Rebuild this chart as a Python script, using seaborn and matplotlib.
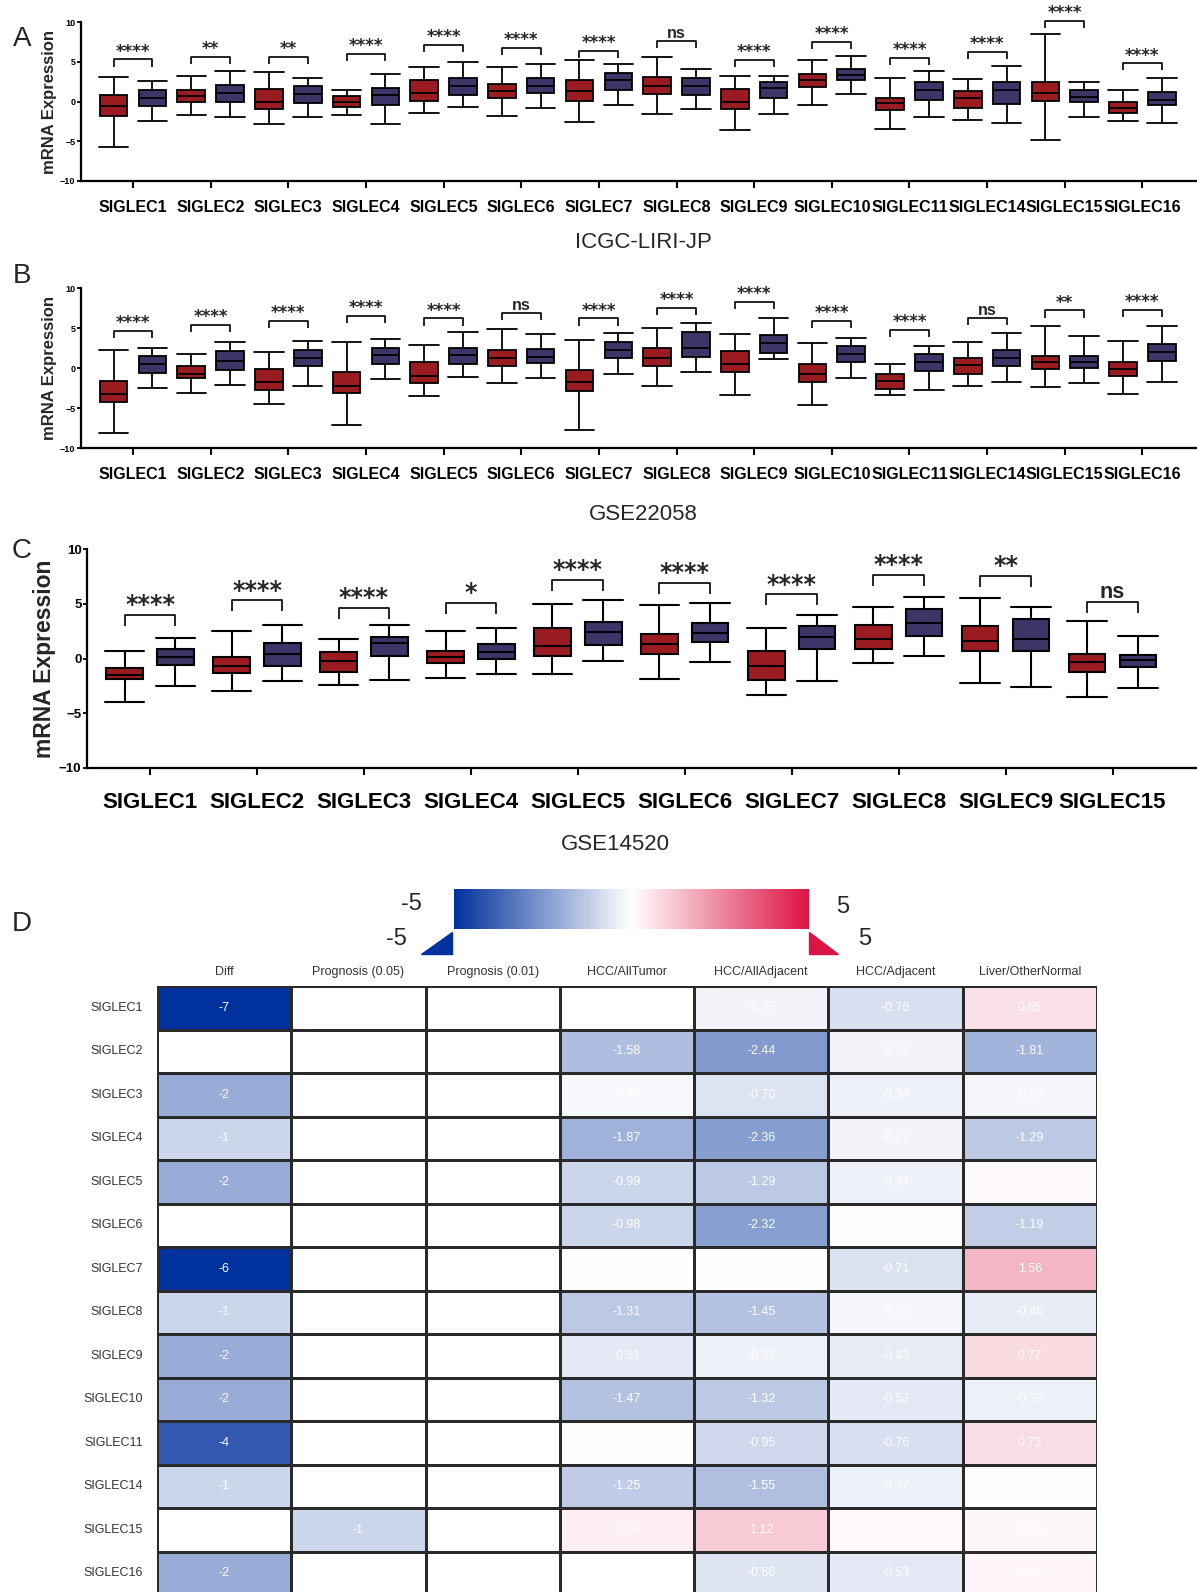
import numpy as np
import pandas as pd
import matplotlib
matplotlib.use("Agg")
import matplotlib.pyplot as plt
import seaborn as sns
from matplotlib import font_manager
from matplotlib.colors import LinearSegmentedColormap
from matplotlib.patches import Polygon

# ---------------- data ----------------
genes_ab = ["SIGLEC1", "SIGLEC2", "SIGLEC3", "SIGLEC4", "SIGLEC5", "SIGLEC6", "SIGLEC7",
            "SIGLEC8", "SIGLEC9", "SIGLEC10", "SIGLEC11", "SIGLEC14", "SIGLEC15", "SIGLEC16"]
genes_c = ["SIGLEC1", "SIGLEC2", "SIGLEC3", "SIGLEC4", "SIGLEC5", "SIGLEC6", "SIGLEC7",
           "SIGLEC8", "SIGLEC9", "SIGLEC15"]
groups = ["Tumor", "Normal"]

# Panel A - ICGC-LIRI-JP (min, Q1, median, Q3, max)
a_tumor_min = [-5.7, -1.7, -2.8, -1.7, -1.5, -1.8, -2.6, -1.6, -3.6, -0.5, -3.4, -2.3, -4.9, -2.5]
a_tumor_q1 = [-1.8, 0.0, -1.0, -0.7, 0.1, 0.4, 0.1, 0.9, -1.0, 1.8, -1.1, -0.8, 0.1, -1.4]
a_tumor_med = [-0.6, 0.7, -0.1, 0.0, 1.1, 1.3, 1.3, 1.9, -0.1, 2.7, -0.2, 0.5, 1.1, -0.8]
a_tumor_q3 = [0.85, 1.5, 1.6, 0.7, 2.7, 2.2, 2.7, 3.1, 1.6, 3.5, 0.5, 1.3, 2.5, 0.0]
a_tumor_max = [3.1, 3.2, 3.7, 1.5, 4.4, 4.3, 5.2, 5.6, 3.2, 5.2, 2.9, 2.8, 8.5, 1.5]
a_normal_min = [-2.5, -1.9, -2.0, -2.8, -0.7, -0.8, -0.4, -1.0, -1.6, 0.9, -2.0, -2.7, -1.9, -2.7]
a_normal_q1 = [-0.6, 0.0, -0.2, -0.4, 0.85, 1.1, 1.5, 0.85, 0.5, 2.7, 0.25, -0.3, 0.0, -0.4]
a_normal_med = [0.5, 1.1, 0.9, 0.8, 1.9, 1.9, 2.7, 1.9, 1.7, 3.3, 1.4, 1.5, 0.6, 0.25]
a_normal_q3 = [1.5, 2.1, 1.9, 1.7, 3.0, 2.9, 3.6, 3.0, 2.5, 4.1, 2.4, 2.5, 1.4, 1.2]
a_normal_max = [2.6, 3.8, 3.0, 3.5, 5.0, 4.7, 4.7, 4.1, 3.2, 5.7, 3.8, 4.5, 2.5, 3.0]
a_bracket = [5.3, 5.6, 5.6, 6.0, 7.1, 6.7, 6.4, 7.6, 5.2, 7.5, 5.5, 6.2, 10.1, 4.8]
a_sig = ["****", "**", "**", "****", "****", "****", "****", "ns", "****", "****",
         "****", "****", "****", "****"]

# Panel B - GSE22058
b_tumor_min = [-8.1, -3.1, -4.5, -7.1, -3.5, -1.9, -7.8, -2.25, -3.4, -4.6, -3.4, -2.3, -2.4, -3.2]
b_tumor_q1 = [-4.2, -1.3, -2.7, -3.1, -1.9, 0.3, -2.9, 0.3, -0.5, -1.8, -2.6, -0.8, -0.1, -1.0]
b_tumor_med = [-3.2, -0.7, -1.8, -2.2, -1.0, 1.3, -1.7, 1.2, 0.5, -0.8, -1.6, 0.4, 0.75, -0.1]
b_tumor_q3 = [-1.6, 0.2, -0.1, -0.5, 0.7, 2.3, -0.3, 2.5, 2.1, 0.5, -0.75, 1.25, 1.5, 0.75]
b_tumor_max = [2.2, 1.8, 2.0, 3.3, 2.9, 4.9, 3.5, 5.0, 4.2, 3.1, 0.5, 3.2, 5.2, 3.4]
b_normal_min = [-2.5, -2.1, -2.25, -1.4, -1.1, -1.3, -0.7, -0.5, 1.1, -1.2, -2.7, -1.7, -1.9, -1.75]
b_normal_q1 = [-0.6, -0.25, 0.2, 0.5, 0.5, 0.6, 1.2, 1.4, 1.9, 0.7, -0.4, 0.2, 0.0, 0.9]
b_normal_med = [0.5, 0.9, 1.3, 1.6, 1.6, 1.4, 2.3, 2.5, 3.1, 1.8, 0.7, 1.3, 0.7, 2.0]
b_normal_q3 = [1.5, 2.1, 2.3, 2.5, 2.5, 2.4, 3.3, 4.5, 4.1, 2.75, 1.7, 2.25, 1.5, 3.0]
b_normal_max = [2.5, 3.2, 3.4, 3.6, 4.5, 4.2, 4.4, 5.6, 6.2, 3.8, 2.75, 4.4, 4.0, 5.3]
b_bracket = [4.6, 5.4, 5.9, 6.5, 6.2, 6.9, 6.2, 7.5, 8.3, 5.9, 4.8, 6.3, 7.2, 7.3]
b_sig = ["****", "****", "****", "****", "****", "ns", "****", "****", "****", "****",
         "****", "ns", "**", "****"]

# Panel C - GSE14520
c_tumor_min = [-4.0, -3.0, -2.4, -1.8, -1.4, -1.85, -3.35, -0.4, -2.2, -3.5]
c_tumor_q1 = [-1.9, -1.3, -1.2, -0.45, 0.2, 0.4, -1.95, 0.85, 0.65, -1.2]
c_tumor_med = [-1.5, -0.7, -0.25, 0.15, 1.1, 1.35, -0.7, 1.8, 1.6, -0.3]
c_tumor_q3 = [-0.9, 0.15, 0.6, 0.65, 2.8, 2.25, 0.65, 3.1, 3.0, 0.4]
c_tumor_max = [0.7, 2.5, 1.8, 2.5, 5.0, 4.9, 2.75, 4.7, 5.55, 3.4]
c_normal_min = [-2.5, -2.1, -1.95, -1.4, -0.25, -0.35, -2.05, 0.2, -2.6, -2.7]
c_normal_q1 = [-0.6, -0.65, 0.2, 0.0, 1.25, 1.5, 0.85, 2.1, 0.7, -0.8]
c_normal_med = [0.1, 0.45, 1.4, 0.6, 2.4, 2.3, 1.95, 3.2, 1.8, -0.1]
c_normal_q3 = [0.85, 1.4, 1.95, 1.3, 3.3, 3.25, 3.0, 4.5, 3.6, 0.35]
c_normal_max = [1.9, 3.1, 3.05, 2.8, 5.3, 5.1, 4.0, 5.6, 4.7, 2.1]
c_bracket = [4.0, 5.3, 4.6, 5.1, 7.2, 6.9, 5.85, 7.65, 7.55, 5.2]
c_sig = ["****", "****", "****", "*", "****", "****", "****", "****", "**", "ns"]

# Panel D - heatmap
hm_rows = genes_ab
hm_cols = ["Diff", "Prognosis (0.05)", "Prognosis (0.01)", "HCC/AllTumor",
           "HCC/AllAdjacent", "HCC/Adjacent", "Liver/OtherNormal"]
nan = np.nan
hm_diff = [-7, nan, -2, -1, -2, nan, -6, -1, -2, -2, -4, -1, nan, -2]
hm_prog05 = [nan, nan, nan, nan, nan, nan, nan, nan, nan, nan, nan, nan, -1, nan]
hm_prog01 = [nan] * 14
hm_alltumor = [nan, -1.58, -0.16, -1.87, -0.99, -0.98, -0.02, -1.31, -0.51, -1.47, 0.07, -1.25, 0.34, nan]
hm_alladj = [-0.25, -2.44, -0.70, -2.36, -1.29, -2.32, 0.03, -1.45, -0.33, -1.32, -0.95, -1.55, 1.12, -0.66]
hm_adj = [-0.76, -0.24, -0.34, -0.27, -0.34, 0.07, -0.71, -0.20, -0.43, -0.53, -0.76, -0.37, 0.12, -0.53]
hm_liver = [0.65, -1.81, -0.23, -1.29, 0.15, -1.19, 1.56, -0.46, 0.77, -0.39, 0.73, 0.05, 0.16, 0.21]

# ---------------- style ----------------
RED = "#9b1c20"
BLUE = "#3b3568"
W, H = 1197, 1592

sns.set_theme(style="ticks")
names = {f.name for f in font_manager.fontManager.ttflist}
NARROW = "Liberation Sans Narrow" if "Liberation Sans Narrow" in names else "Liberation Sans"
plt.rcParams["font.family"] = ["Liberation Sans", "DejaVu Sans"]

fig = plt.figure(figsize=(W / 100, H / 100), dpi=100)


def fx(px):
    return px / W


def fy(py):
    return 1 - py / H


def long_df(genes, tstats, nstats):
    rows = []
    for i, g in enumerate(genes):
        for grp, stats in (("Tumor", tstats), ("Normal", nstats)):
            for s in stats:
                rows.append((g, grp, s[i]))
    return pd.DataFrame(rows, columns=["gene", "group", "value"])


def draw_panel(rect, genes, df, brackets, sigs, xlim, width, gap, capw,
               fs_tick, fs_ytick, fs_ylab, fs_star, fs_ns, drop, lw, pad, star_lift):
    ax = fig.add_axes(rect)
    sns.boxplot(data=df, x="gene", y="value", hue="group", order=genes,
                hue_order=groups, palette=[RED, BLUE], saturation=1,
                whis=(0, 100), width=width, gap=gap, showfliers=False,
                linecolor="black", linewidth=lw, legend=False, ax=ax,
                capwidths=capw)
    ax.set_ylim(-10, 10)
    ax.set_xlim(*xlim)
    ax.set_yticks([-10, -5, 0, 5, 10])
    ax.set_xlabel("")
    ax.set_ylabel("mRNA Expression", fontsize=fs_ylab, fontweight="bold", labelpad=2)
    sns.despine(ax=ax)
    for sp in ("left", "bottom"):
        ax.spines[sp].set_linewidth(1.6)
        ax.spines[sp].set_color("black")
    ax.tick_params(axis="x", length=5, width=1.5, pad=pad, colors="black")
    ax.tick_params(axis="y", length=3, width=1.3, pad=1, colors="black")
    for lab in ax.get_xticklabels():
        lab.set_fontfamily([NARROW, "DejaVu Sans"])
        lab.set_fontweight("bold")
        lab.set_fontsize(fs_tick)
    for lab in ax.get_yticklabels():
        lab.set_fontweight("bold")
        lab.set_fontsize(fs_ytick)
    off = width / 4
    for i, (h, s) in enumerate(zip(brackets, sigs)):
        x1, x2 = i - off, i + off
        ax.plot([x1, x1, x2, x2], [h - drop, h, h, h - drop], color="black",
                lw=1.2, clip_on=False, solid_capstyle="butt")
        if s == "ns":
            ax.text(i, h + 0.35, s, ha="center", va="baseline", fontsize=fs_ns,
                    fontweight="bold", family=[NARROW, "DejaVu Sans"], clip_on=False)
        else:
            ax.text(i, h + star_lift, s, ha="center", va="baseline", fontsize=fs_star,
                    fontweight="bold", family=["DejaVu Sans"], clip_on=False)
    return ax


df_a = long_df(genes_ab, [a_tumor_min, a_tumor_q1, a_tumor_med, a_tumor_q3, a_tumor_max],
               [a_normal_min, a_normal_q1, a_normal_med, a_normal_q3, a_normal_max])
df_b = long_df(genes_ab, [b_tumor_min, b_tumor_q1, b_tumor_med, b_tumor_q3, b_tumor_max],
               [b_normal_min, b_normal_q1, b_normal_med, b_normal_q3, b_normal_max])
df_c = long_df(genes_c, [c_tumor_min, c_tumor_q1, c_tumor_med, c_tumor_q3, c_tumor_max],
               [c_normal_min, c_normal_q1, c_normal_med, c_normal_q3, c_normal_max])

rect_a = [fx(81), fy(181), fx(1196 - 81), (181 - 22) / H]
rect_b = [fx(81), fy(448), fx(1196 - 81), (448 - 288) / H]
rect_c = [fx(87), fy(768), fx(1197 - 87), (768 - 549) / H]

draw_panel(rect_a, genes_ab, df_a, a_bracket, a_sig, (-0.67, 13.69), 1.0, 0.29, 0.38,
           11.5, 6.5, 12, 12, 11.5, 0.9, 1.3, 9, 0.35)
draw_panel(rect_b, genes_ab, df_b, b_bracket, b_sig, (-0.67, 13.69), 1.0, 0.29, 0.38,
           11.5, 6.5, 12, 12, 11.5, 0.9, 1.3, 9, 0.35)
draw_panel(rect_c, genes_c, df_c, c_bracket, c_sig, (-0.59, 9.79), 0.95, 0.28, 0.37,
           16, 9.5, 16.5, 17, 15.5, 1.0, 1.5, 12, 0.25)

# titles and panel letters
fig.text(fx(643), fy(242), "ICGC-LIRI-JP", ha="center", va="center", fontsize=16)
fig.text(fx(643), fy(514), "GSE22058", ha="center", va="center", fontsize=16)
fig.text(fx(615), fy(844), "GSE14520", ha="center", va="center", fontsize=16)
for letter, (px, py) in {"A": (22, 39), "B": (22, 276), "C": (22, 551), "D": (22, 924)}.items():
    fig.text(fx(px), fy(py), letter, ha="center", va="center", fontsize=20)

# ---------------- heatmap ----------------
hm = pd.DataFrame({hm_cols[0]: hm_diff, hm_cols[1]: hm_prog05, hm_cols[2]: hm_prog01,
                   hm_cols[3]: hm_alltumor, hm_cols[4]: hm_alladj, hm_cols[5]: hm_adj,
                   hm_cols[6]: hm_liver}, index=hm_rows)
annot = hm.copy().astype(object)
for c in hm.columns:
    for r in hm.index:
        v = hm.loc[r, c]
        if np.isnan(v):
            annot.loc[r, c] = ""
        elif c in hm_cols[:3]:
            annot.loc[r, c] = f"{int(v)}"
        else:
            annot.loc[r, c] = f"{v:.2f}"

cmap = LinearSegmentedColormap.from_list("bwr_custom", ["#00319c", "#ffffff", "#dc1444"])
ax_h = fig.add_axes([fx(157), fy(1595), fx(1097 - 157), (1595 - 986) / H])
cax = fig.add_axes([fx(454), fy(929), fx(355), 40 / H])
sns.heatmap(hm, ax=ax_h, cmap=cmap, vmin=-5, vmax=5, annot=annot.values, fmt="",
            annot_kws={"color": "white", "fontsize": 9, "family": [NARROW, "DejaVu Sans"]},
            linewidths=0.8, linecolor="#2a2a2a", cbar=True, cbar_ax=cax,
            cbar_kws={"orientation": "horizontal"})
ax_h.hlines(np.arange(0, len(hm_rows) + 1), 0, len(hm_cols), color="#2a2a2a", lw=2.0)
ax_h.xaxis.tick_top()
ax_h.tick_params(axis="both", length=0, pad=6)
ax_h.set_xticklabels(hm_cols, rotation=0, fontsize=9, color="#333333",
                     family=[NARROW, "DejaVu Sans"])
ax_h.set_yticklabels(hm_rows, rotation=0, fontsize=9, color="#333333",
                     family=[NARROW, "DejaVu Sans"])
ax_h.tick_params(axis="y", pad=10)
cbar = ax_h.collections[0].colorbar
cbar.set_ticks([])
cbar.outline.set_visible(False)

# colorbar end labels and triangles
fig.text(fx(411), fy(904), "-5", ha="center", va="center", fontsize=17, family=[NARROW, "DejaVu Sans"])
fig.text(fx(396), fy(939), "-5", ha="center", va="center", fontsize=17, family=[NARROW, "DejaVu Sans"])
fig.text(fx(843), fy(907), "5", ha="center", va="center", fontsize=17, family=[NARROW, "DejaVu Sans"])
fig.text(fx(865), fy(939), "5", ha="center", va="center", fontsize=17, family=[NARROW, "DejaVu Sans"])
fig.patches.append(Polygon([(fx(421), fy(954)), (fx(452), fy(954)), (fx(452), fy(932))],
                           closed=True, transform=fig.transFigure, color=cmap(0.0)))
fig.patches.append(Polygon([(fx(809), fy(932)), (fx(809), fy(954)), (fx(838), fy(954))],
                           closed=True, transform=fig.transFigure, color=cmap(1.0)))

fig.savefig("out.png", dpi=100)
